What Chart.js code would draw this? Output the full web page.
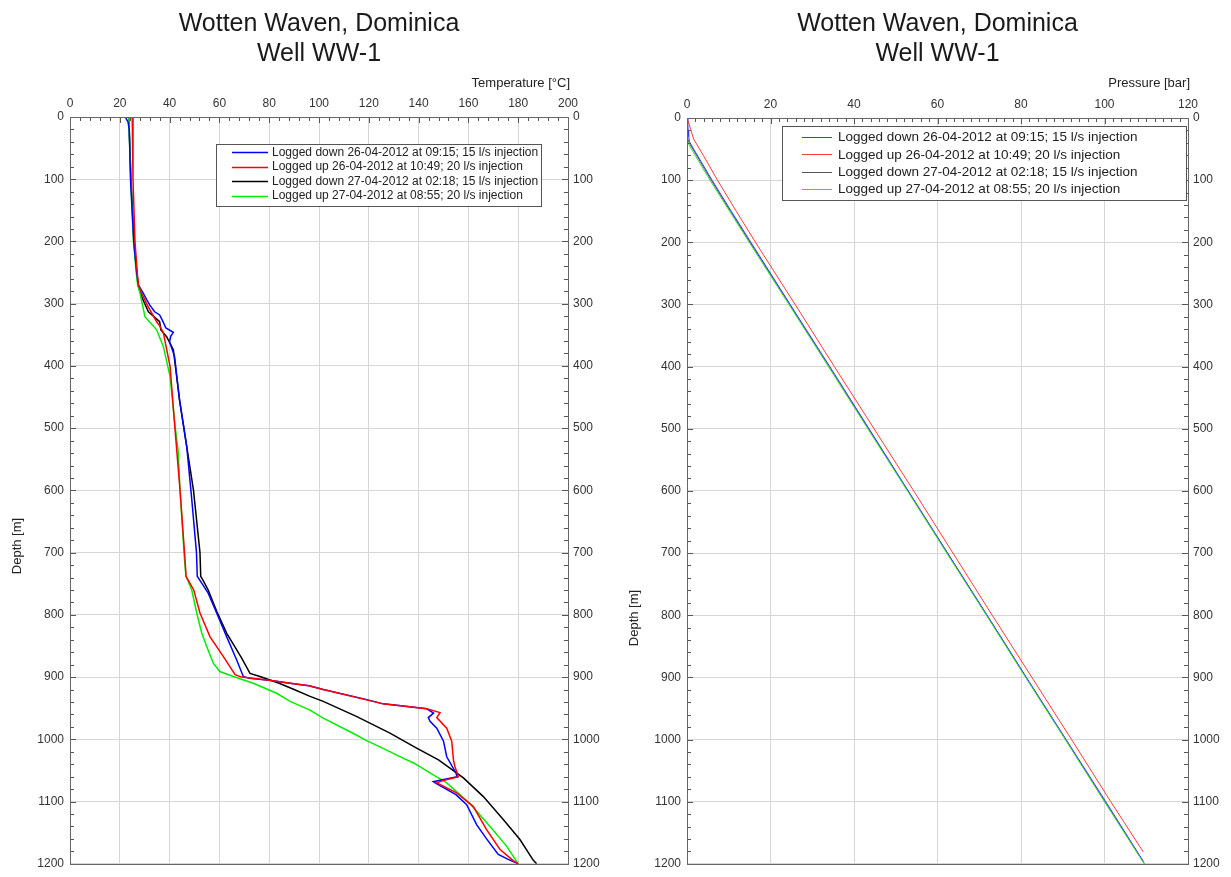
<!DOCTYPE html>
<html><head><meta charset="utf-8">
<script src="https://cdn.jsdelivr.net/npm/chart.js@4.4.1/dist/chart.umd.min.js"></script>
<style>
html,body{margin:0;padding:0;background:#fff;}
#wrap{position:relative;width:1231px;height:877px;overflow:hidden;}
#c1{position:absolute;left:0;top:0;}
#c2{position:absolute;left:615px;top:0;}
</style></head><body>
<div id="wrap"><canvas id="c1" width="615" height="877"></canvas><canvas id="c2" width="616" height="877"></canvas></div>
<script>
// ---------- labels ----------
const chartTitle = ["Wotten Waven, Dominica", "Well WW-1"];
const seriesLabels = [
  "Logged down 26-04-2012 at 09:15; 15 l/s injection",
  "Logged up 26-04-2012 at 10:49; 20 l/s injection",
  "Logged down 27-04-2012 at 02:18; 15 l/s injection",
  "Logged up 27-04-2012 at 08:55; 20 l/s injection"
];
const tempAxisTitle = "Temperature [°C]";
const presAxisTitle = "Pressure [bar]";
const depthAxisTitle = "Depth [m]";

// ---------- temperature profiles (depth m, temperature °C) ----------
const blueTDepth = [0,3,8,20,100,200,250,270,283,295,302,313,318,330,339,346,352,361,385,455,530,610,700,738,749,765,797,835,872,899,902,905,910,914,920,935,943,951,958,965,971,982,1003,1028,1054,1060,1068,1072,1089,1105,1137,1160,1185,1193,1200];
const blueTValue = [22.4,22.6,23.3,23.8,24.3,25.6,26.8,27.5,29.4,31,32,34,36,37.5,38.5,41.5,40.5,40,42,44,46.9,48.8,50.8,51.1,52.9,55.5,58.9,62.9,66.9,69.6,72,80,88.4,96,101.7,118,125.8,143.3,146,143.9,144.6,147.3,150,151.3,155,155.5,145.9,147.5,155,159.3,163.3,167.3,172,176,180];

const redTDepth = [0,100,200,250,270,283,302,329,336,347,401,503,600,712,738,760,797,835,867,896,900,905,910,914,920,937,943,951,957,965,982,1003,1033,1044,1060,1066,1070,1086,1108,1145,1177,1195,1200];
const redTValue = [25,25.3,26.1,27,27.5,28.8,31,34.8,36.1,37.5,40.2,42.2,44.2,46.2,46.6,49.7,52.2,56.2,61.6,66.3,68.9,80,88.4,96,101.7,119.5,125.8,143.3,148.6,147.3,151.3,153.3,154,154.6,156,150,147.3,155.3,162,167.3,172.7,178,180];

const blackTDepth = [0,100,200,250,270,291,313,329,342,353,374,455,530,600,700,738,745,760,795,830,850,870,894,899,910,920,931,939,963,990,1014,1033,1062,1092,1129,1161,1194,1200];
const blackTValue = [23.6,24.5,25.7,26.8,27.3,29,31.5,36,36.5,38.8,41.5,44,46.9,49.6,52.2,52.5,53.5,55.5,59,63,66,69,72.3,76.3,84,90,96.4,101.7,115,128.5,139.2,148,158,166,174,180.7,186,187.4];

const greenTDepth = [0,100,200,250,270,283,321,342,369,417,497,535,600,712,738,760,797,829,851,878,891,899,910,926,939,953,966,993,1001,1017,1025,1038,1057,1070,1103,1140,1172,1200];
const greenTValue = [23.6,24.4,25.5,26.6,27.2,28.1,30.1,34.8,37.5,40.2,42.2,43.4,44.2,46,46.6,48.9,50.9,52.9,54.9,57.6,60.2,65.6,73.6,83,88.4,96.4,101.7,115,118.5,127,131,138,145.9,151.3,160.6,168.7,175.4,180];

// ---------- pressure profiles (depth m, pressure bar) ----------
const bluePDepth = [0,10,20,30,38,50,100,150,200,300,400,500,600,700,800,900,1000,1100,1196];
const bluePValue = [0,0.2,0.3,0.4,0.6,1.6,6.0,10.6,15.3,24.7,34.2,43.6,53.0,62.4,71.9,81.3,90.8,100.3,109.3];
const redPDepth = [0,10,34,60,100,150,200,300,400,500,600,700,800,900,1000,1100,1181];
const redPValue = [0,0.5,1.6,3.9,7.3,11.8,16.4,25.9,35.3,44.8,54.3,63.7,73.1,82.6,92.1,101.5,109.3];
const blackPDepth = [30,40,50,100,150,200,300,400,500,600,700,800,900,1000,1100,1200];
const blackPValue = [0,0.5,1.4,5.8,10.4,15.1,24.6,34.0,43.5,52.9,62.4,71.8,81.2,90.7,100.1,109.6];
const greenPDepth = [35,45,55,100,150,200,300,400,500,600,700,800,900,1000,1100,1200];
const greenPValue = [0,0.6,1.5,5.5,10.2,14.9,24.4,33.9,43.3,52.8,62.2,71.7,81.1,90.6,100.0,109.5];

// ---------- axis ranges / ticks ----------
const depthMin = 0, depthMax = 1200, depthStep = 100, depthMinor = 20;
const tempMin = 0, tempMax = 200, tempStep = 20, tempMinor = 4;
const presMin = 0, presMax = 120, presStep = 20, presMinor = 2;

function pts(xv, yv) { return xv.map((v, i) => ({ x: v, y: yv[i] })); }

const FONT = '"Liberation Sans", Arial, Helvetica, sans-serif';

const decor = {
  id: 'decor',
  afterDatasetsDraw(chart, args, o) {
    const ctx = chart.ctx, a = chart.chartArea;
    const xs = chart.scales.x, ys = chart.scales.y;
    ctx.save();
    ctx.strokeStyle = '#555';
    ctx.lineWidth = 1;
    ctx.beginPath();
    const isMajor = (v, m) => Math.abs(v / m - Math.round(v / m)) < 1e-6;
    for (let i = 0; ; i++) {
      const v = xs.min + i * o.xMinor;
      if (v > xs.max + 1e-9) break;
      const p = Math.round(xs.getPixelForValue(v)) + 0.5;
      const L = isMajor(v, o.xMajor) ? 6 : 4;
      ctx.moveTo(p, a.top); ctx.lineTo(p, a.top + L);
    }
    for (let i = 0; ; i++) {
      const v = ys.min + i * o.yMinor;
      if (v > ys.max + 1e-9) break;
      const p = Math.round(ys.getPixelForValue(v)) + 0.5;
      const L = isMajor(v, o.yMajor) ? 6 : 4;
      ctx.moveTo(a.left, p); ctx.lineTo(a.left + L, p);
      ctx.moveTo(a.right, p); ctx.lineTo(a.right - L, p);
    }
    ctx.stroke();
    ctx.strokeStyle = '#666';
    ctx.strokeRect(Math.round(a.left) + 0.5, Math.round(a.top) + 0.5,
                   Math.round(a.right) - Math.round(a.left), Math.round(a.bottom) - Math.round(a.top));
    // legend
    const lg = o.legend;
    ctx.fillStyle = '#fff';
    ctx.fillRect(lg.x, lg.y, lg.w, lg.h);
    ctx.strokeStyle = '#555';
    ctx.strokeRect(lg.x + 0.5, lg.y + 0.5, lg.w, lg.h);
    ctx.font = lg.font + 'px ' + FONT;
    ctx.textBaseline = 'middle';
    ctx.textAlign = 'left';
    chart.data.datasets.forEach((ds, i) => {
      const yy = lg.y + lg.first + i * lg.gap;
      ctx.strokeStyle = ds.borderColor;
      ctx.lineWidth = ds.borderWidth;
      ctx.beginPath();
      ctx.moveTo(lg.x + lg.lx0, Math.round(yy) + 0.5);
      ctx.lineTo(lg.x + lg.lx1, Math.round(yy) + 0.5);
      ctx.stroke();
      ctx.fillStyle = '#222';
      ctx.fillText(ds.label, lg.x + lg.tx, yy + 0.5);
    });
    ctx.restore();
  },
  afterDraw(chart, args, o) {
    const ctx = chart.ctx, a = chart.chartArea;
    ctx.save();
    ctx.fillStyle = '#1a1a1a';
    ctx.textAlign = 'center';
    ctx.textBaseline = 'alphabetic';
    ctx.font = o.titleFont + 'px ' + FONT;
    const cx = (a.left + a.right) / 2;
    ctx.fillText(chartTitle[0], cx, o.titleY[0]);
    ctx.fillText(chartTitle[1], cx, o.titleY[1]);
    ctx.font = '13px ' + FONT;
    ctx.textAlign = 'right';
    ctx.textBaseline = 'middle';
    ctx.fillStyle = '#222';
    ctx.fillText(o.axisTitle, o.axisTitleX, o.axisTitleY);
    ctx.translate(o.depthX, o.depthY);
    ctx.rotate(-Math.PI / 2);
    ctx.textAlign = 'center';
    ctx.fillText(depthAxisTitle, 0, 0);
    ctx.restore();
  }
};

function makeChart(id, datasets, xr, cfg) {
  return new Chart(document.getElementById(id), {
    type: 'scatter',
    data: { datasets },
    plugins: [decor],
    options: {
      responsive: false,
      animation: false,
      events: [],
      layout: { padding: { left: 0, right: 0, top: 0, bottom: cfg.padBottom } },
      plugins: { legend: { display: false }, title: { display: false }, tooltip: { enabled: false }, decor: cfg.decor },
      elements: { point: { radius: 0 }, line: { tension: 0 } },
      scales: {
        x: {
          type: 'linear', position: 'top', min: xr.min, max: xr.max,
          ticks: { stepSize: xr.step, padding: 6, color: '#333', font: { size: 12, family: FONT }, maxRotation: 0, autoSkip: false },
          grid: { color: '#d6d6d6', drawTicks: false, lineWidth: 1 },
          border: { display: false },
          afterFit: s => { s.height = cfg.top; }
        },
        y: {
          type: 'linear', position: 'left', reverse: true, min: depthMin, max: depthMax,
          ticks: { stepSize: depthStep, padding: cfg.yPad, color: '#333', font: { size: 12, family: FONT }, callback: v => String(v), autoSkip: false },
          grid: { color: '#d6d6d6', drawTicks: false, lineWidth: 1 },
          border: { display: false },
          afterFit: s => { s.width = cfg.left; }
        },
        y2: {
          type: 'linear', position: 'right', reverse: true, min: depthMin, max: depthMax,
          ticks: { stepSize: depthStep, padding: 5, color: '#333', font: { size: 12, family: FONT }, callback: v => String(v), autoSkip: false },
          grid: { display: false, drawTicks: false },
          border: { display: false },
          afterFit: s => { s.width = cfg.right; }
        }
      }
    }
  });
}

const tempSets = [
  { label: seriesLabels[0], data: pts(blueTValue, blueTDepth), borderColor: '#0000ff', borderWidth: 1.5, showLine: true, order: 1 },
  { label: seriesLabels[1], data: pts(redTValue, redTDepth), borderColor: '#ff0000', borderWidth: 1.5, showLine: true, order: 0 },
  { label: seriesLabels[2], data: pts(blackTValue, blackTDepth), borderColor: '#000000', borderWidth: 1.5, showLine: true, order: 3 },
  { label: seriesLabels[3], data: pts(greenTValue, greenTDepth), borderColor: '#00ee00', borderWidth: 1.5, showLine: true, order: 2 }
];
const presSets = [
  { label: seriesLabels[0], data: pts(bluePValue, bluePDepth), borderColor: '#3a3aff', borderWidth: 1, showLine: true, order: 2 },
  { label: seriesLabels[1], data: pts(redPValue, redPDepth), borderColor: '#ff3a3a', borderWidth: 1, showLine: true, order: 1 },
  { label: seriesLabels[2], data: pts(blackPValue, blackPDepth), borderColor: '#555555', borderWidth: 1, showLine: true, order: 3 },
  { label: seriesLabels[3], data: pts(greenPValue, greenPDepth), borderColor: '#33dd33', borderWidth: 1, showLine: true, order: 0 }
];

makeChart('c1', tempSets, { min: tempMin, max: tempMax, step: tempStep }, {
  top: 117, left: 70, right: 47, padBottom: 12, yPad: 6,
  decor: {
    xMinor: tempMinor, xMajor: tempStep, yMinor: depthMinor, yMajor: depthStep,
    titleFont: 25, titleY: [31, 61],
    axisTitle: tempAxisTitle, axisTitleX: 570, axisTitleY: 83,
    depthX: 17, depthY: 546,
    legend: { x: 216, y: 144, w: 325, h: 62, font: 12, first: 8, gap: 14.5, lx0: 16, lx1: 52, tx: 56 }
  }
});

makeChart('c2', presSets, { min: presMin, max: presMax, step: presStep }, {
  top: 118, left: 72, right: 43, padBottom: 9, yPad: 6,
  decor: {
    xMinor: presMinor, xMajor: presStep, yMinor: depthMinor, yMajor: depthStep,
    titleFont: 25, titleY: [31, 61],
    axisTitle: presAxisTitle, axisTitleX: 575, axisTitleY: 83,
    depthX: 19, depthY: 618,
    legend: { x: 167, y: 126, w: 404, h: 74, font: 13.5, first: 11, gap: 17.4, lx0: 20, lx1: 50, tx: 56 }
  }
});
</script>
</body></html>
